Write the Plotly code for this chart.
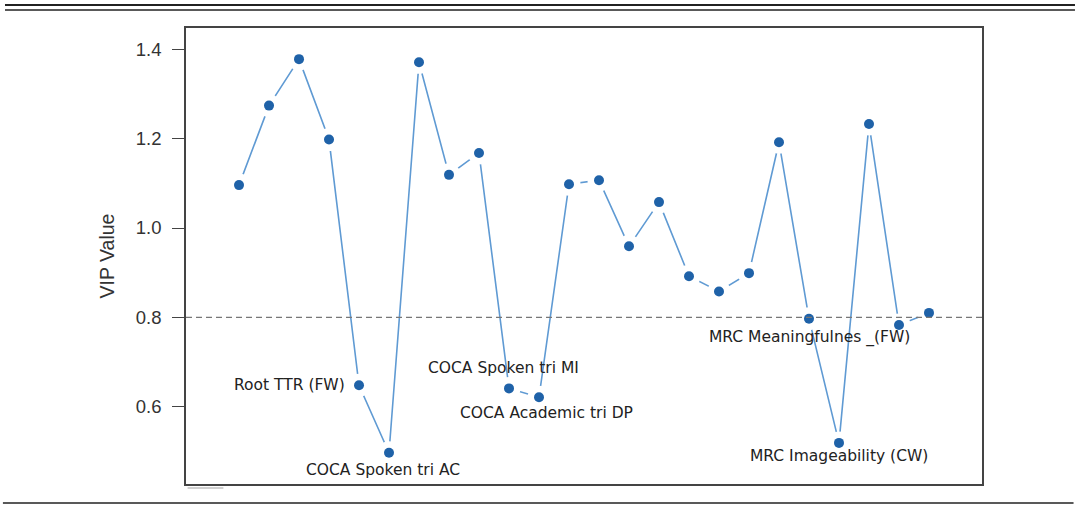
import plotly.graph_objects as go

# VIP scores of the 24 linguistic features, in model order
feature_idx = list(range(1, 25))
vip_values = [1.096, 1.274, 1.378, 1.198, 0.648, 0.497, 1.371, 1.119, 1.168, 0.641,
              0.621, 1.098, 1.107, 0.959, 1.058, 0.892, 0.858, 0.899, 1.192, 0.797,
              0.519, 1.233, 0.783, 0.810]
threshold = 0.8

# named features (feature index -> label)
labelled = {
    5: "Root TTR (FW)",
    6: "COCA Spoken tri AC",
    10: "COCA Spoken tri MI",
    11: "COCA Academic tri DP",
    20: "MRC Meaningfulnes _(FW)",
    21: "MRC Imageability (CW)",
}
y_ticks = [0.6, 0.8, 1.0, 1.2, 1.4]

# label placement relative to its point: (xanchor, xshift, yshift) in px
label_offsets = {
    5: ("right", -12, 0),
    6: ("center", -6, -17),
    10: ("center", -6, 20),
    11: ("center", 7, -16),
    20: ("center", 1, -19),
    21: ("center", 0, -13),
}

LINE_BLUE = "#5f9ad3"
DOT_BLUE = "#1f62a8"

fig = go.Figure()
fig.add_trace(go.Scatter(x=feature_idx, y=vip_values, mode="lines",
                         line=dict(color=LINE_BLUE, width=1.6),
                         hoverinfo="skip", showlegend=False))
# white halo that opens a gap in the line around each point
fig.add_trace(go.Scatter(x=feature_idx, y=vip_values, mode="markers",
                         marker=dict(color="white", size=23, line=dict(width=0)),
                         hoverinfo="skip", showlegend=False))
fig.add_trace(go.Scatter(x=feature_idx, y=vip_values, mode="markers",
                         marker=dict(color=DOT_BLUE, size=10, line=dict(width=0)),
                         showlegend=False))

fig.add_shape(type="line", xref="paper", yref="y", x0=0, x1=1, y0=threshold, y1=threshold,
              line=dict(color="#777777", width=1.3, dash="6px,4px"), layer="above")

for idx, text in labelled.items():
    anchor, dx, dy = label_offsets[idx]
    fig.add_annotation(x=idx, y=vip_values[idx - 1], text=text, showarrow=False,
                       xanchor=anchor, yanchor="middle", xshift=dx, yshift=dy,
                       font=dict(family="DejaVu Sans", size=15.5, color="#222222"))

# rules above and below the figure
for y0, w in [(1.0504, 2), (1.0395, 1.6)]:
    fig.add_shape(type="line", xref="paper", yref="paper", x0=-0.2274, x1=1.1168,
                  y0=y0, y1=y0, line=dict(color="#222222", width=w))
fig.add_shape(type="line", xref="paper", yref="paper", x0=-0.23, x1=1.115,
              y0=-0.0417, y1=-0.0417, line=dict(color="#222222", width=1.6))
fig.add_shape(type="line", xref="paper", yref="paper", x0=0.002, x1=0.047,
              y0=-0.009, y1=-0.009, line=dict(color="#d0d0d0", width=2))

fig.update_xaxes(range=[-0.767, 25.767], showticklabels=False, ticks="", showgrid=False,
                 zeroline=False, showline=True, mirror=True, linecolor="#444444", linewidth=1.5)
fig.update_yaxes(range=[0.427, 1.4477], tickvals=y_ticks, ticktext=[f"{v:.1f}" for v in y_ticks],
                 ticks="outside", ticklen=12, tickwidth=1.3, tickcolor="#444444",
                 ticklabelstandoff=7, showgrid=False, zeroline=False,
                 showline=True, mirror=True, linecolor="#444444", linewidth=1.5,
                 tickfont=dict(family="Liberation Sans", size=18.5, color="#333333"),
                 title=dict(text="VIP Value", standoff=16,
                            font=dict(family="Liberation Sans", size=19.5, color="#333333")))

fig.update_layout(width=1083, height=506, margin=dict(l=186, r=101, t=28, b=22),
                  plot_bgcolor="white", paper_bgcolor="white")

fig.write_html("out.html")
